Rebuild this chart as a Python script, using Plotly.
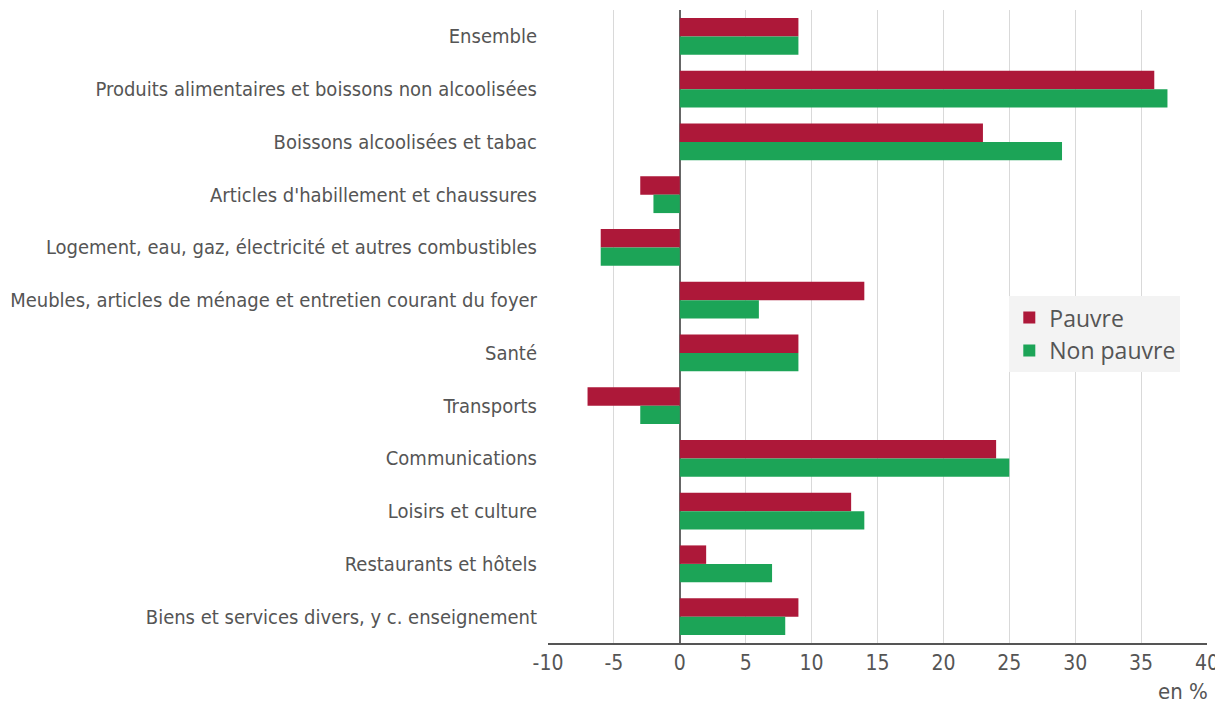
import plotly.graph_objects as go

categories = [
    "Ensemble",
    "Produits alimentaires et boissons non alcoolisées",
    "Boissons alcoolisées et tabac",
    "Articles d'habillement et chaussures",
    "Logement, eau, gaz, électricité et autres combustibles",
    "Meubles, articles de ménage et entretien courant du foyer",
    "Santé",
    "Transports",
    "Communications",
    "Loisirs et culture",
    "Restaurants et hôtels",
    "Biens et services divers, y c. enseignement",
]
pauvre = [9, 36, 23, -3, -6, 14, 9, -7, 24, 13, 2, 9]
non_pauvre = [9, 37, 29, -2, -6, 6, 9, -3, 25, 14, 7, 8]
tick_vals = [-10, -5, 0, 5, 10, 15, 20, 25, 30, 35, 40]
tick_text = ["-10", "-5", "0", "5", "10", "15", "20", "25", "30", "35", "40"]

label_font = "DejaVu Sans Condensed, Liberation Sans Narrow, Open Sans, sans-serif"

fig = go.Figure()
fig.add_trace(go.Bar(y=categories, x=pauvre, name="Pauvre", orientation="h",
                     marker=dict(color="#AD1839", line=dict(width=0))))
fig.add_trace(go.Bar(y=categories, x=non_pauvre, name="Non pauvre", orientation="h",
                     marker=dict(color="#1CA457", line=dict(width=0))))

# the page body has an 8px margin, so the figure is sized to fit the window
fig.update_layout(
    width=1215, height=697,
    margin=dict(l=538, r=16, t=2, b=62),
    paper_bgcolor="white", plot_bgcolor="white",
    barmode="group", bargap=0.3, bargroupgap=0,
    font=dict(family=label_font, size=20, color="#555555"),
    xaxis=dict(range=[-10, 40], tickvals=tick_vals, ticktext=tick_text,
               showgrid=True, gridcolor="#d9d9d9", gridwidth=1, zeroline=True,
               zerolinecolor="#666666", zerolinewidth=2,
               showline=True, linecolor="#555555", linewidth=2,
               ticks="", tickfont=dict(size=21, color="#555555")),
    yaxis=dict(autorange="reversed", showgrid=False, ticks="",
               ticklabelstandoff=10, tickfont=dict(size=20, color="#555555")),
    legend=dict(x=0.70, y=0.488, xanchor="left", yanchor="middle",
                bgcolor="#f3f3f3", traceorder="normal",
                font=dict(family="Open Sans, sans-serif", size=23, color="#555555"),
                itemwidth=30, tracegroupgap=2),
    annotations=[dict(text="en %", xref="paper", yref="paper", x=1.005, y=-0.053,
                      xanchor="right", yanchor="top", showarrow=False,
                      font=dict(size=22, color="#555555"))],
)

fig.write_html("out.html")
